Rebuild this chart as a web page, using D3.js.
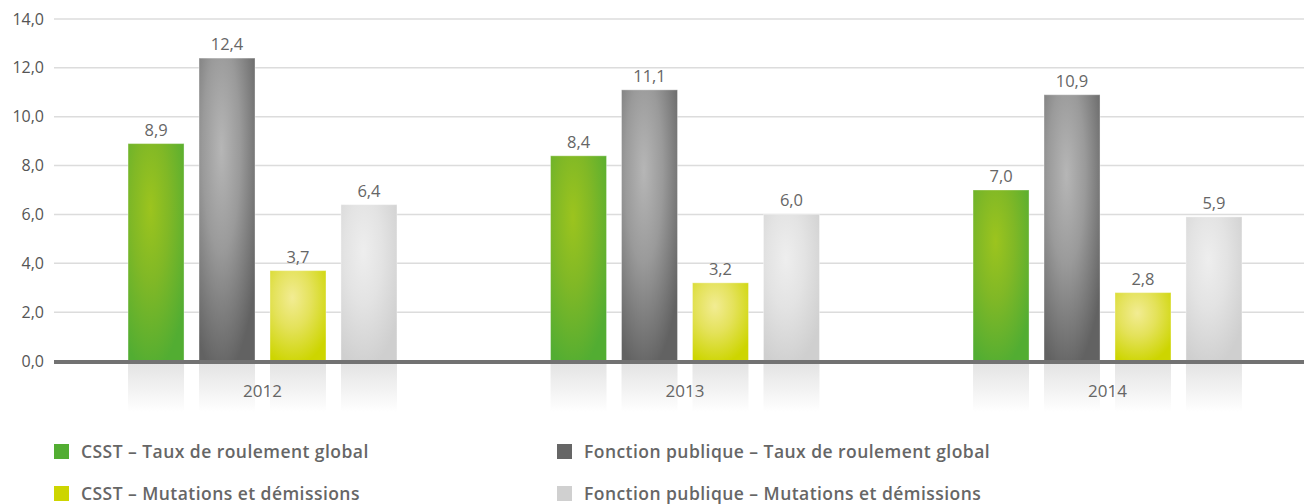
<!DOCTYPE html>
<html lang="fr">
<head>
<meta charset="utf-8">
<title>Taux de roulement</title>
<script src="https://d3js.org/d3.v7.min.js"></script>
<style>
  body { margin: 0; background: #fff; }
  text { font-family: "Open Sans", "Noto Sans", sans-serif; }
</style>
</head>
<body>
<div id="chart"></div>
<script>
// data
var years = ["2012", "2013", "2014"];
var csstGlobal = [8.9, 8.4, 7.0];
var fpGlobal = [12.4, 11.1, 10.9];
var csstMutations = [3.7, 3.2, 2.8];
var fpMutations = [6.4, 6.0, 5.9];
var yTicks = [0, 2, 4, 6, 8, 10, 12, 14];

var series = [
  { key: "csstG", name: "CSST – Taux de roulement global", values: csstGlobal, swatch: "#52ad32",
    stops: ["#9cc41e", "#80b826", "#52ad32"] },
  { key: "fpG", name: "Fonction publique – Taux de roulement global", values: fpGlobal, swatch: "#666666",
    stops: ["#b6b6b6", "#9a9a9a", "#626262"] },
  { key: "csstM", name: "CSST – Mutations et démissions", values: csstMutations, swatch: "#cdd500",
    stops: ["#f2ec93", "#e4e25a", "#cdd500"] },
  { key: "fpM", name: "Fonction publique – Mutations et démissions", values: fpMutations, swatch: "#d0d0d0",
    stops: ["#eeeeee", "#e3e3e3", "#cfcfcf"] }
];

var W = 1304, H = 504;
var plotL = 54, plotR = 1304, plotT = 19, plotB = 361;

var svg = d3.select("#chart").append("svg")
  .attr("width", W).attr("height", H);

var defs = svg.append("defs");
series.forEach(function(s) {
  var g = defs.append("radialGradient")
    .attr("id", "grad-" + s.key)
    .attr("cx", 0.4).attr("cy", 0.3).attr("r", 0.75)
    .attr("fx", 0.4).attr("fy", 0.3);
  g.append("stop").attr("offset", "0%").attr("stop-color", s.stops[0]);
  g.append("stop").attr("offset", "45%").attr("stop-color", s.stops[1]);
  g.append("stop").attr("offset", "100%").attr("stop-color", s.stops[2]);
});
var refl = defs.append("linearGradient").attr("id", "refl")
  .attr("x1", 0).attr("y1", 0).attr("x2", 0).attr("y2", 1);
refl.append("stop").attr("offset", "0%").attr("stop-color", "#e4e4e4");
refl.append("stop").attr("offset", "100%").attr("stop-color", "#ffffff");

var y = d3.scaleLinear().domain([0, 14]).range([plotB, plotT]);

var x0 = d3.scaleBand().domain(years).range([51.25, 1318.75])
  .paddingInner(0.328).paddingOuter(0.164);
var x1 = d3.scaleBand().domain(series.map(function(s) { return s.key; }))
  .range([0, x0.bandwidth()]).paddingInner(15 / 71).paddingOuter(7.5 / 71);

var fmt = function(v) { return d3.format(".1f")(v).replace(".", ","); };

// grid
svg.append("g").selectAll("line").data(yTicks.filter(function(t) { return t > 0; }))
  .enter().append("line")
  .attr("x1", plotL).attr("x2", plotR)
  .attr("y1", function(d) { return y(d); }).attr("y2", function(d) { return y(d); })
  .attr("stroke", "#dcdcdc").attr("stroke-width", 1.5);

// y axis labels
var yAxis = svg.append("g").attr("transform", "translate(" + (plotL - 10) + ",0)")
  .call(d3.axisLeft(y).tickValues(yTicks).tickFormat(fmt).tickSize(0).tickPadding(0));
yAxis.select(".domain").remove();
yAxis.selectAll("text").attr("fill", "#555").style("font-size", "16px")
  .attr("font-family", "\"Open Sans\", sans-serif");

// reflections
var groups = svg.append("g").selectAll("g").data(years).enter().append("g")
  .attr("transform", function(d) { return "translate(" + x0(d) + ",0)"; });

groups.selectAll("rect.refl").data(series).enter().append("rect")
  .attr("class", "refl")
  .attr("x", function(s) { return x1(s.key); })
  .attr("width", x1.bandwidth())
  .attr("y", plotB + 3).attr("height", 48)
  .attr("fill", "url(#refl)");

// bars
groups.selectAll("rect.bar").data(function(yr, i) {
    return series.map(function(s) { return { s: s, v: s.values[i] }; });
  }).enter().append("rect")
  .attr("class", "bar")
  .attr("x", function(d) { return x1(d.s.key); })
  .attr("width", x1.bandwidth())
  .attr("y", function(d) { return y(d.v); })
  .attr("height", function(d) { return plotB - y(d.v); })
  .attr("fill", function(d) { return "url(#grad-" + d.s.key + ")"; })
  .attr("stroke", "rgba(255,255,255,0.35)").attr("stroke-width", 1);

// value labels
groups.selectAll("text.val").data(function(yr, i) {
    return series.map(function(s) { return { s: s, v: s.values[i] }; });
  }).enter().append("text")
  .attr("class", "val")
  .attr("x", function(d) { return x1(d.s.key) + x1.bandwidth() / 2; })
  .attr("y", function(d) { return y(d.v) - 8; })
  .attr("text-anchor", "middle")
  .attr("fill", "#666").style("font-size", "16.5px")
  .text(function(d) { return fmt(d.v); });

// year labels
groups.append("text")
  .attr("x", x0.bandwidth() / 2).attr("y", 397)
  .attr("text-anchor", "middle")
  .attr("fill", "#666").style("font-size", "17px")
  .text(function(d) { return d; });

// baseline
svg.append("line")
  .attr("x1", plotL).attr("x2", plotR)
  .attr("y1", plotB + 1).attr("y2", plotB + 1)
  .attr("stroke", "#727272").attr("stroke-width", 4);

// legend
var legendPos = [[54, 452], [557, 452], [54, 494], [557, 494]];
var order = [0, 1, 2, 3];
var leg = svg.append("g").selectAll("g").data(order).enter().append("g")
  .attr("transform", function(i) { return "translate(" + legendPos[i][0] + "," + legendPos[i][1] + ")"; });
leg.append("rect").attr("x", 0).attr("y", -8).attr("width", 15).attr("height", 15)
  .attr("fill", function(i) { return series[i].swatch; });
leg.append("text").attr("x", 27).attr("y", 0).attr("dy", "0.35em")
  .attr("fill", "#666").style("font-size", "17.5px").style("font-weight", 600)
  .style("letter-spacing", "0.45px")
  .text(function(i) { return series[i].name; });
</script>
</body>
</html>
